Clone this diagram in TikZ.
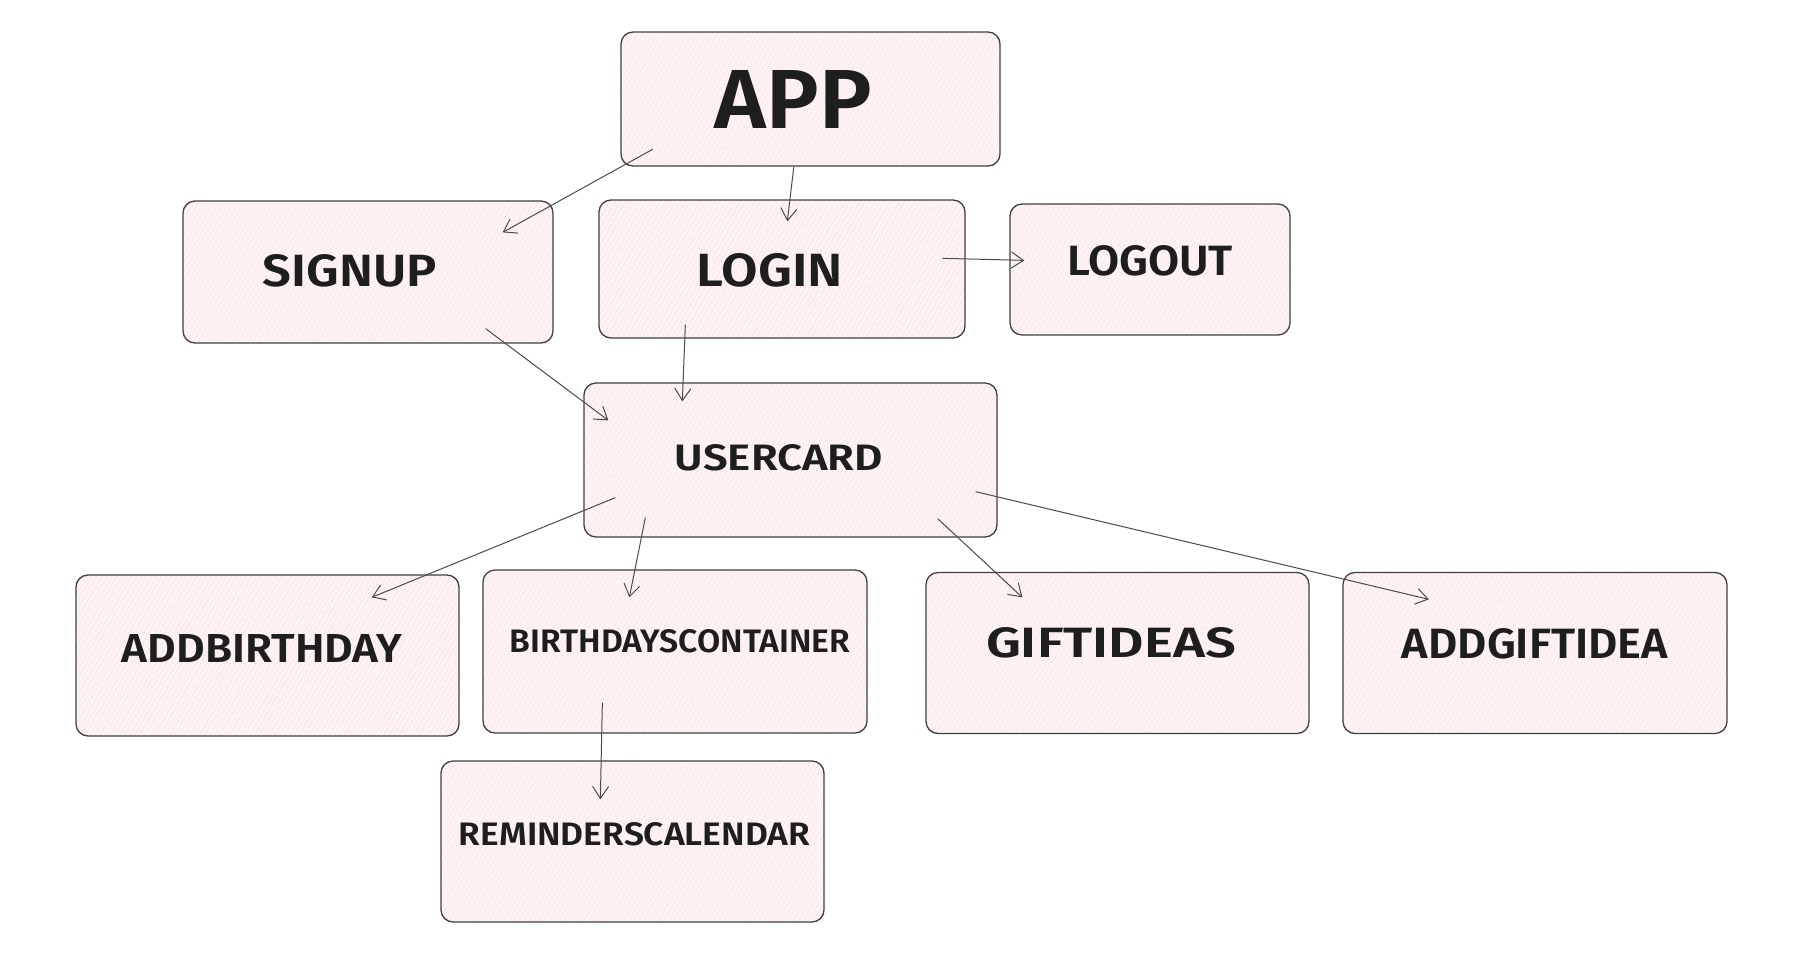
\documentclass[tikz,border=0pt]{standalone}
\usepackage{fontspec}
\setmainfont{Fira Sans}[BoldFont={Fira Sans SemiBold}]
\usetikzlibrary{arrows.meta,patterns.meta}
\definecolor{boxfill}{RGB}{253,243,243}
\definecolor{hatch}{RGB}{246,205,205}
\definecolor{ink}{RGB}{30,30,30}
\newcommand{\fitt}[3]{\resizebox{#1pt}{#2pt}{\bfseries #3}}
\tikzset{
  box/.style={draw=ink!85, line width=1.3pt, rounded corners=12pt,
    preaction={fill=boxfill},
    pattern={Lines[angle=60,distance=4pt,line width=0.5pt]}, pattern color=hatch,
    inner sep=0pt},
  conn/.style={draw=ink!80, line width=1pt,
    -{Straight Barb[length=12pt,width=16pt,line width=1pt]}},
  lbl/.style={text=ink}
}
\begin{document}
\begin{tikzpicture}[x=1pt,y=-1pt]
\fill[white] (0,0) rectangle (1810,978);
\useasboundingbox (0,0) rectangle (1810,978);

\node[box, minimum width=379pt, minimum height=134pt,
  label={[lbl,xshift=-17pt]center:\fitt{157}{58}{APP}}] (app) at (810.5,99) {};
\node[box, minimum width=370pt, minimum height=142pt,
  label={[lbl,xshift=-18pt,yshift=1pt]center:\fitt{174}{32}{SIGNUP}}] (signup) at (368,272) {};
\node[box, minimum width=366pt, minimum height=138pt,
  label={[lbl,xshift=-12pt,yshift=-1pt]center:\fitt{146}{33}{LOGIN}}] (login) at (782,269) {};
\node[box, minimum width=280pt, minimum height=131pt,
  label={[lbl,yshift=8.5pt]center:\fitt{166}{30}{LOGOUT}}] (logout) at (1150,269.5) {};
\node[box, minimum width=413pt, minimum height=154pt,
  label={[lbl,xshift=-11.5pt,yshift=2pt]center:\fitt{208}{26}{USERCARD}}] (usercard) at (790.5,460) {};
\node[box, minimum width=383pt, minimum height=161pt,
  label={[lbl,xshift=-5.5pt,yshift=7.5pt]center:\fitt{280}{28}{ADDBIRTHDAY}}] (addb) at (267.5,655.5) {};
\node[box, minimum width=384pt, minimum height=163pt,
  label={[lbl,xshift=5pt,yshift=10pt]center:\fitt{340}{23}{BIRTHDAYSCONTAINER}}] (bcont) at (675,651.5) {};
\node[box, minimum width=383pt, minimum height=161pt,
  label={[lbl,xshift=-6.5pt,yshift=10pt]center:\fitt{250}{30}{GIFTIDEAS}}] (gift) at (1117.5,653) {};
\node[box, minimum width=384pt, minimum height=161pt,
  label={[lbl,yshift=9pt]center:\fitt{266}{30}{ADDGIFTIDEA}}] (addgift) at (1535,653) {};
\node[box, minimum width=383pt, minimum height=161pt,
  label={[lbl,xshift=2pt,yshift=7pt]center:\fitt{351}{23}{REMINDERSCALENDAR}}] (remind) at (632.5,841.5) {};

\draw[conn] ([shift={(32,-17)}]app.south west) -- ([shift={(-51,32)}]signup.north east);
\draw[conn] ([shift={(173,1)}]app.south west) -- ([shift={(189,22)}]login.north west);
\draw[conn] ([shift={(-23,59)}]login.north east) -- ([shift={(15,57)}]logout.north west);
\draw[conn] ([shift={(-68,-15)}]signup.south east) -- ([shift={(25,38)}]usercard.north west);
\draw[conn] ([shift={(87,-14)}]login.south west) -- ([shift={(99,19)}]usercard.north west);
\draw[conn] ([shift={(32,-40)}]usercard.south west) -- ([shift={(-88,23)}]addb.north east);
\draw[conn] ([shift={(62,-20)}]usercard.south west) -- ([shift={(147,28)}]bcont.north west);
\draw[conn] ([shift={(-60,-19)}]usercard.south east) -- ([shift={(97,25.5)}]gift.north west);
\draw[conn] ([shift={(-22,-46)}]usercard.south east) -- ([shift={(86.5,27.5)}]addgift.north west);
\draw[conn] ([shift={(120,-31)}]bcont.south west) -- ([shift={(160,39)}]remind.north west);
\end{tikzpicture}
\end{document}
